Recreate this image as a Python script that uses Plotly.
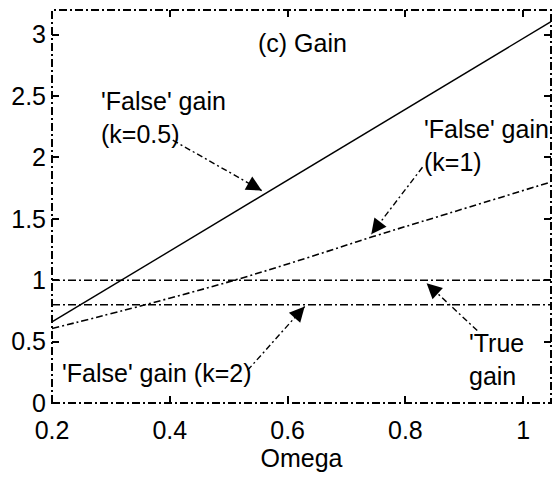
import math
import plotly.graph_objects as go

# Frequency axis and gain curves
omega_max = math.pi / 3
omega_k05 = [0.2, 0.318, 0.519, 0.62, 0.824, omega_max]
gain_k05 = [0.66, 1.0, 1.58, 1.87, 2.46, 3.105]

omega_k1 = [0.2, 0.358, 0.51, 0.632, 0.745, 0.857, omega_max]
gain_k1 = [0.606, 0.80, 1.0, 1.18, 1.355, 1.52, 1.80]

omega_flat = [0.2, omega_max]
gain_true = [1.0, 1.0]
gain_k2 = [0.8, 0.8]

x_ticks = [0.2, 0.4, 0.6, 0.8, 1.0]
x_tick_labels = ["0.2", "0.4", "0.6", "0.8", "1"]
y_ticks = [0, 0.5, 1, 1.5, 2, 2.5, 3]
y_tick_labels = ["0", "0.5", "1", "1.5", "2", "2.5", "3"]

W, H = 558, 481
M = dict(l=52, r=7, t=10, b=78)
X_RANGE = [0.2, omega_max]
Y_RANGE = [0, 3.2]
FONT = "Liberation Sans, Arial, sans-serif"
DASHDOT = "8px,3px,2px,3px"

fig = go.Figure()
fig.add_trace(go.Scatter(x=omega_k05, y=gain_k05, mode="lines",
                         line=dict(color="black", width=1.4)))
fig.add_trace(go.Scatter(x=omega_k1, y=gain_k1, mode="lines", line_shape="spline",
                         line=dict(color="black", width=1.6, dash="7px,3px,2px,3px")))
fig.add_trace(go.Scatter(x=omega_flat, y=gain_true, mode="lines",
                         line=dict(color="black", width=1.5, dash=DASHDOT)))
fig.add_trace(go.Scatter(x=omega_flat, y=gain_k2, mode="lines",
                         line=dict(color="black", width=1.5, dash=DASHDOT)))

# Dash-dot frame around the plotting area
shapes = [
    dict(type="rect", xref="paper", yref="paper", x0=0, y0=0, x1=1, y1=1,
         line=dict(color="black", width=2, dash=DASHDOT), layer="above"),
]

# Labels and arrows (tail -> tip in data coordinates)
labels = [
    ("(c) Gain", 0.6254, 2.93, "center"),
    ("'False' gain<br>(k=0.5)", 0.2797, 2.324, "left"),
    ("'False' gain<br>(k=1)", 0.829, 2.10, "left"),
    ("'True<br>gain", 0.905, 0.356, "left"),
    ("'False' gain (k=2)", 0.2136, 0.242, "left"),
]
arrows = [
    ((0.405, 2.14), (0.556, 1.73)),
    ((0.829, 1.92), (0.742, 1.375)),
    ((0.922, 0.59), (0.836, 0.975)),
    ((0.532, 0.266), (0.629, 0.786)),
]

annotations = []
for text, x, y, anchor in labels:
    annotations.append(dict(text=text, x=x, y=y, xref="x", yref="y",
                            xanchor=anchor, yanchor="middle", align="left",
                            showarrow=False,
                            font=dict(family=FONT, size=25, color="black")))

pw = W - M["l"] - M["r"]
ph = H - M["t"] - M["b"]
sx = pw / (X_RANGE[1] - X_RANGE[0])
sy = ph / (Y_RANGE[1] - Y_RANGE[0])
for (tx, ty), (hx, hy) in arrows:
    shapes.append(dict(type="line", xref="x", yref="y", x0=tx, y0=ty, x1=hx, y1=hy,
                       line=dict(color="black", width=1.4, dash="6px,3px,2px,3px")))
    dx = (tx - hx) * sx
    dy = (ty - hy) * sy
    n = math.hypot(dx, dy)
    L = 16
    annotations.append(dict(x=hx, y=hy, xref="x", yref="y", text="",
                            showarrow=True, arrowhead=2, arrowsize=1.9,
                            arrowwidth=1.6, arrowcolor="black", standoff=0,
                            ax=dx / n * L, ay=-dy / n * L))

axis_common = dict(showgrid=False, zeroline=False, showline=False,
                   ticks="inside", ticklen=7, tickwidth=1.5, tickcolor="black",
                   mirror="ticks",
                   tickfont=dict(family=FONT, size=25, color="black"))

fig.update_layout(
    width=W, height=H, margin=M,
    paper_bgcolor="white", plot_bgcolor="white",
    showlegend=False,
    shapes=shapes, annotations=annotations,
    xaxis=dict(range=X_RANGE, tickvals=x_ticks, ticktext=x_tick_labels,
               ticklabelstandoff=10,
               title=dict(text="Omega", font=dict(family=FONT, size=25, color="black"),
                          standoff=6),
               **axis_common),
    yaxis=dict(range=Y_RANGE, tickvals=y_ticks, ticktext=y_tick_labels,
               ticklabelstandoff=5,
               **axis_common),
)

fig.write_html("out.html")
